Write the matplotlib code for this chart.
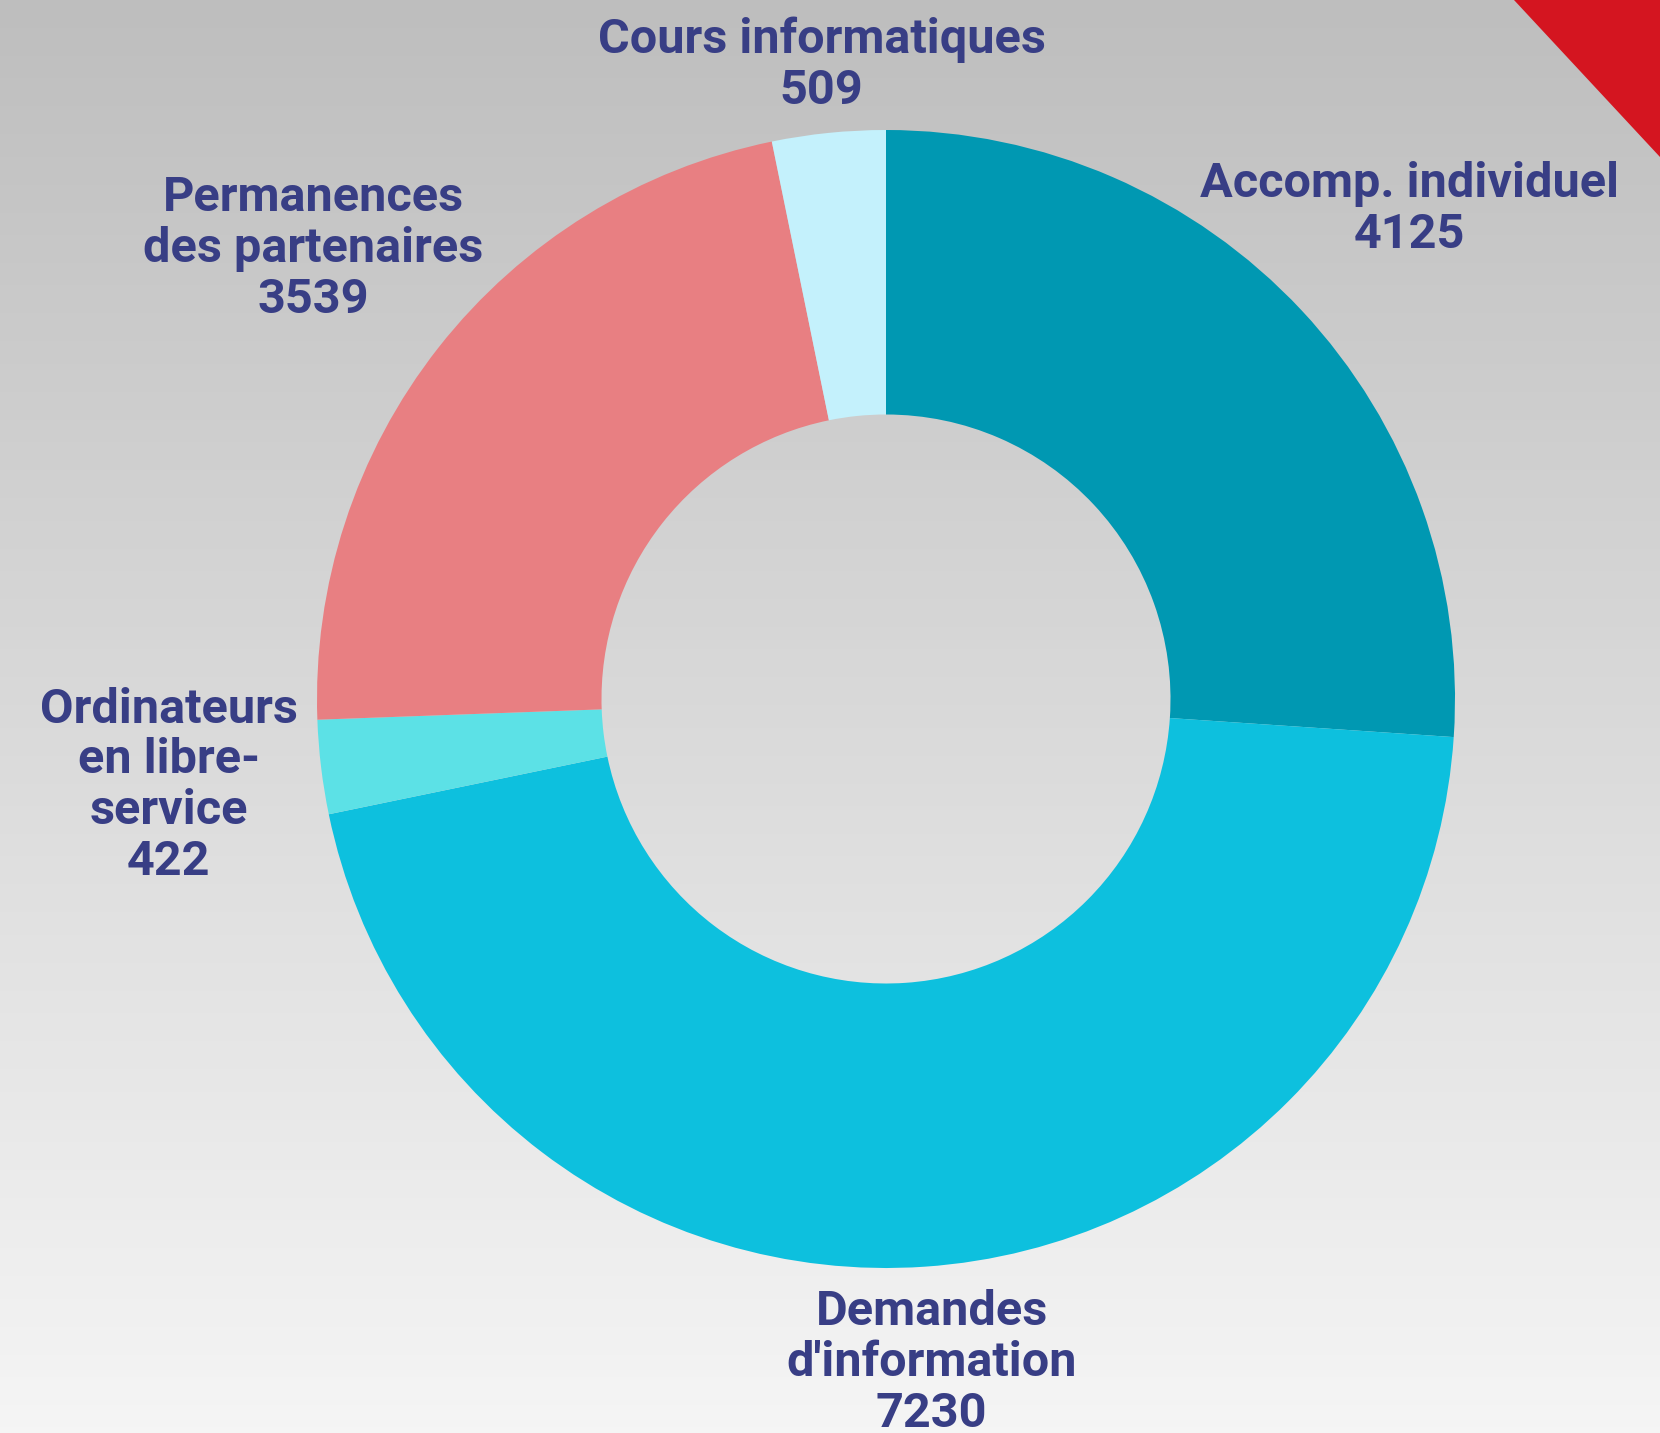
import numpy as np
import matplotlib.pyplot as plt
from matplotlib.patches import Polygon

labels = ["Accomp. individuel", "Demandes\nd'information", "Ordinateurs\nen libre-\nservice",
          "Permanences\ndes partenaires", "Cours informatiques"]
values = [4125, 7230, 422, 3539, 509]
colors = ["#0098B2", "#0DC0DE", "#5CE1E6", "#E87F82", "#C4F1FC"]
label_dist = [1.26, 1.17, 1.27, 1.28, 1.12]

W, H = 1660, 1433
cx, cy, R = 886, 699, 569
text_color = "#383E85"

fig = plt.figure(figsize=(W / 100, H / 100), dpi=100)

# background gradient + red corner
bg = fig.add_axes([0, 0, 1, 1])
grad = np.linspace(0, 1, 256).reshape(-1, 1)
bg.imshow(grad, aspect="auto", cmap=plt.matplotlib.colors.LinearSegmentedColormap.from_list(
    "g", ["#BEBEBE", "#F5F5F5"]), extent=[0, W, H, 0])
bg.add_patch(Polygon([[1514, 0], [W, 0], [W, 157]], closed=True, color="#D41520", lw=0))
bg.set_xlim(0, W)
bg.set_ylim(H, 0)
bg.axis("off")

ax = fig.add_axes([0, 0, 1, 1])
ax.patch.set_alpha(0)
wedges, _ = ax.pie(values, colors=colors, startangle=90, counterclock=False,
                   radius=1, wedgeprops=dict(width=0.5, linewidth=0))
ax.set_xlim(-cx / R, (W - cx) / R)
ax.set_ylim(-(H - cy) / R, cy / R)
ax.set_aspect("auto")
ax.axis("off")

for w, lab, v, d in zip(wedges, labels, values, label_dist):
    ang = np.deg2rad((w.theta1 + w.theta2) / 2)
    ax.text(d * np.cos(ang), d * np.sin(ang), f"{lab}\n{v}", ha="center", va="center",
            fontsize=35, fontweight="bold", color=text_color, family="Roboto",
            linespacing=1.13)

fig.savefig("out.png", dpi=100)
